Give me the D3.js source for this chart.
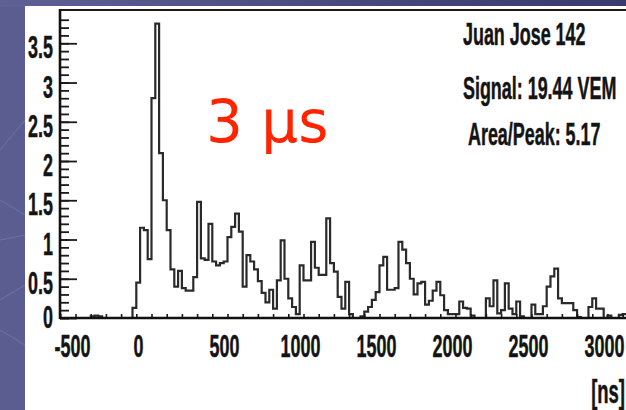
<!DOCTYPE html>
<html>
<head>
<meta charset="utf-8">
<script src="https://cdn.jsdelivr.net/npm/d3@7"></script>
<style>
  html, body { margin: 0; padding: 0; background: #5b5c90; }
  svg { display: block; }
</style>
</head>
<body>
<svg id="chart" width="626" height="410"></svg>
<script>
// Trace histogram: 25 ns bins starting at -600 ns
const binStart = -600;
const binWidth = 25;
const counts = [
  0, 0, 0, 0, 0, 0, 0, 0, 0.02, 0.03, 0.02, 0, 0, 0, 0, 0, 0, 0, 0,
  0.13, 0.45, 1.15, 1.12, 0.75, 2.8, 3.75, 2.1, 1.5, 1.12,
  0.62, 0.4, 0.6, 0.38, 0.35, 0.35, 0.52, 1.48, 0.76, 0.74,
  1.2, 0.72, 0.67, 0.7, 0.72, 1.03, 1.16, 1.33, 1.1, 0.4,
  0.8, 0.72, 0.62, 0.47, 0.32, 0.2, 0.36, 0.12, 0.48, 0.99,
  0.5, 0.25, 0.14, 0.05, 0.67, 0.48, 0.48, 0.97, 0.64, 0.55,
  0.55, 1.27, 0.7, 0.59, 0.27, 0.12, 0.46, 0.05, 0, 0,
  0.02, 0.08, 0.14, 0.23, 0.33, 0.67, 0.78, 0.36, 0.36, 0.38,
  0.97, 0.87, 0.7, 0.5, 0.3, 0.44, 0.46, 0.17, 0.22, 0.35,
  0.46, 0.29, 0.1, 0.05, 0.05, 0.05, 0.21, 0.13, 0.12, 0.03,
  0, 0, 0, 0.25, 0.15, 0.48, 0.06, 0.1, 0.44, 0.12,
  0.05, 0.21, 0.02, 0, 0, 0.17, 0.05, 0.05, 0.15, 0.4,
  0.53, 0.63, 0.25, 0.19, 0.19, 0.19, 0.1, 0.01, 0, 0,
  0.14, 0.25, 0.12, 0.12, 0, 0.03, 0, 0, 0.04, 0.05
];
const yTicks = [0, 0.5, 1, 1.5, 2, 2.5, 3, 3.5];
const xTicks = [-500, 0, 500, 1000, 1500, 2000, 2500, 3000];
const title = "Juan Jose 142";
const infoLines = ["Signal: 19.44 VEM", "Area/Peak: 5.17"];
const unitLabel = "[ns]";
const durationLabel = "3 μs";

const svg = d3.select("#chart");
const W = 626, H = 410;

// slide background and white panel
const defs = svg.append("defs");
const grad = defs.append("linearGradient").attr("id", "topband").attr("x1", 0).attr("x2", 1);
grad.append("stop").attr("offset", 0).attr("stop-color", "#5f6096");
grad.append("stop").attr("offset", 0.6).attr("stop-color", "#46477a");
grad.append("stop").attr("offset", 1).attr("stop-color", "#3a3b6c");
svg.append("rect").attr("width", W).attr("height", H).attr("fill", "#5b5c90");
svg.append("rect").attr("width", W).attr("height", 7).attr("fill", "url(#topband)");
const deco = svg.append("g").attr("stroke", "#8c8dbb").attr("stroke-opacity", 0.45).attr("fill", "none").attr("stroke-width", 1);
[[0, 150, 25, 120], [0, 240, 25, 235], [0, 300, 25, 285], [0, 330, 25, 345], [0, 200, 25, 215]].forEach(d => {
  deco.append("line").attr("x1", d[0]).attr("y1", d[1]).attr("x2", d[2]).attr("y2", d[3]);
});
svg.append("rect").attr("x", 25).attr("y", 6).attr("width", W - 25).attr("height", H - 6).attr("fill", "#ffffff");

// plot scales
const pLeft = 60, pTop = 10, pBottom = 318, pRight = 640;
const x = d3.scaleLinear().domain([-602, 3214]).range([pLeft, pRight]);
const y = d3.scaleLinear().domain([0, 3.924]).range([pBottom, pTop]);

defs.append("clipPath").attr("id", "plotclip")
  .append("rect").attr("x", pLeft).attr("y", pTop - 2).attr("width", pRight - pLeft).attr("height", pBottom - pTop + 4);

// condensed bold label helper
const FONT = "'Liberation Sans', Arial, sans-serif";
const SX = 0.56;
function label(g, str, tx, ty, anchor, size) {
  return g.append("text")
    .attr("transform", `translate(${tx},${ty}) scale(${SX},1)`)
    .attr("text-anchor", anchor)
    .attr("font-family", FONT)
    .attr("font-weight", "bold")
    .attr("font-size", size || 32)
    .attr("fill", "#141414")
    .attr("stroke", "#141414")
    .attr("stroke-width", 0.5)
    .text(str);
}

// histogram steps
const pts = counts.map((v, i) => [binStart + i * binWidth, v]);
pts.push([binStart + counts.length * binWidth, counts[counts.length - 1]]);
const step = d3.line().x(d => x(d[0])).y(d => y(d[1])).curve(d3.curveStepAfter);
svg.append("path")
  .attr("clip-path", "url(#plotclip)")
  .attr("d", step(pts))
  .attr("fill", "none")
  .attr("stroke", "#2a2a2a")
  .attr("stroke-width", 2.2)
  .attr("stroke-linejoin", "miter");

// y axis: ticks pointing into the frame, labels on the left
const yMinor = d3.range(0, 39).map(i => i / 10);
const gyMinor = svg.append("g").attr("transform", `translate(${pLeft},0)`)
  .call(d3.axisLeft(y).tickValues(yMinor).tickSize(-9).tickFormat(""));
const gy = svg.append("g").attr("transform", `translate(${pLeft},0)`)
  .call(d3.axisLeft(y).tickValues(yTicks).tickSize(-17).tickFormat(d3.format("")));
[gyMinor, gy].forEach(g => {
  g.select(".domain").remove();
  g.selectAll(".tick line").attr("stroke", "#1a1a1a").attr("stroke-width", 1.8);
});
gy.selectAll(".tick text").remove();
const gyl = svg.append("g");
yTicks.forEach(v => {
  const off = v === 0 ? 9.5 : 15;
  label(gyl, d3.format("")(v), 53, y(v) + off, "end");
});

// x axis: small ticks every 100 ns
const xMinor = d3.range(-600, 3201, 100);
const gx = svg.append("g").attr("transform", `translate(0,${pBottom})`)
  .call(d3.axisBottom(x).tickValues(xMinor).tickSize(-4).tickFormat(""));
gx.select(".domain").remove();
gx.selectAll(".tick line").attr("stroke", "#1a1a1a").attr("stroke-width", 1.6);
const gxl = svg.append("g");
xTicks.forEach(v => {
  const dx = v === 0 ? -13 : -3;
  label(gxl, String(v), x(v) + dx, 357, "middle");
});
label(gxl, unitLabel, 625, 403, "end", 33);

// frame lines
svg.append("line").attr("x1", pLeft).attr("x2", W).attr("y1", pTop).attr("y2", pTop)
  .attr("stroke", "#1a1a1a").attr("stroke-width", 2.2);
svg.append("line").attr("x1", pLeft).attr("x2", pLeft).attr("y1", pTop - 1).attr("y2", pBottom + 1)
  .attr("stroke", "#111").attr("stroke-width", 2.6);
svg.append("line").attr("x1", pLeft).attr("x2", W).attr("y1", pBottom).attr("y2", pBottom)
  .attr("stroke", "#111").attr("stroke-width", 2.4);

// info box text
const gi = svg.append("g");
label(gi, title, 463, 45, "start");
label(gi, infoLines[0], 463, 99, "start");
label(gi, infoLines[1], 468, 145, "start");

// duration annotation
svg.append("text")
  .attr("x", 206).attr("y", 142)
  .attr("font-family", "'DejaVu Sans', Verdana, sans-serif")
  .attr("font-size", 58)
  .attr("fill", "#ff2400")
  .text(durationLabel);
</script>
</body>
</html>
